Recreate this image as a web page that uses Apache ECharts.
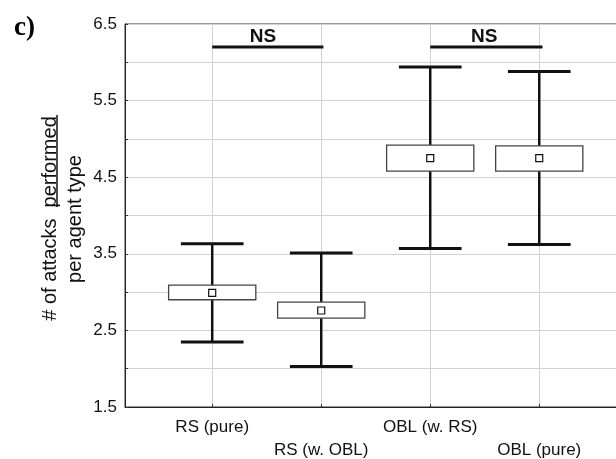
<!DOCTYPE html>
<html>
<head>
<meta charset="utf-8">
<script src="https://cdn.jsdelivr.net/npm/echarts@6/dist/echarts.min.js"></script>
<style>html,body{margin:0;padding:0;background:#fff;overflow:hidden}#c{width:616px;height:459px}</style>
</head>
<body>
<div id="c"></div>
<script>
// ---- data ----
const categories = ['RS (pure)', 'RS (w. OBL)', 'OBL (w. RS)', 'OBL (pure)'];
const catPositions = [1, 2, 3, 4];
const whiskerLow  = [2.35, 2.03, 3.57, 3.62];
const boxLow      = [2.90, 2.66, 4.58, 4.58];
const means       = [2.99, 2.76, 4.75, 4.75];
const boxHigh     = [3.09, 2.87, 4.92, 4.91];
const whiskerHigh = [3.63, 3.51, 5.94, 5.88];
const yTicks = [1.5, 2.5, 3.5, 4.5, 5.5, 6.5];
// significance brackets: from category, to category, level, label, label position
const sigFrom  = [1, 3];
const sigTo    = [2.02, 4.03];
const sigLevel = [6.2, 6.2];
const sigText  = ['NS', 'NS'];
const sigTextAt = [1.465, 3.495];

const FONT = 'Liberation Sans, Arial, Helvetica, sans-serif';

const boxData = catPositions.map((x, i) => [x, whiskerLow[i], boxLow[i], means[i], boxHigh[i], whiskerHigh[i]]);
const sigData = sigFrom.map((x, i) => [x, sigTo[i], sigLevel[i], sigTextAt[i], sigText[i]]);

const chart = echarts.init(document.getElementById('c'), null, {renderer: 'canvas'});
chart.setOption({
  animation: false,
  backgroundColor: '#fff',
  grid: {left: 125, top: 24, bottom: 52, right: -5, outerBoundsMode: 'none', containLabel: false,
         show: true, borderColor: '#333', borderWidth: 1, backgroundColor: 'transparent'},
  xAxis: {
    type: 'value', min: 0.2, max: 4.75,
    axisLine: {show: true, onZero: false, lineStyle: {color: '#222', width: 1}},
    axisTick: {show: true, inside: true, length: 3, customValues: catPositions, lineStyle: {color: '#333'}},
    axisLabel: {
      customValues: catPositions, margin: 9, fontSize: 17, fontFamily: FONT, color: '#111', lineHeight: 23,
      formatter: (v) => { const i = catPositions.indexOf(v); return i % 2 ? '\n' + categories[i] : categories[i]; }
    },
    splitLine: {show: true, lineStyle: {color: '#d2d2d2', width: 1}}
  },
  yAxis: {
    type: 'value', min: 1.5, max: 6.5, interval: 0.5,
    axisLine: {show: true, onZero: false, lineStyle: {color: '#222', width: 1}},
    axisTick: {show: true, inside: true, length: 3, lineStyle: {color: '#333'}},
    axisLabel: {
      margin: 8, fontSize: 17, fontFamily: FONT, color: '#111',
      formatter: (v) => { const r = Math.round(v * 10) / 10; return yTicks.includes(r) ? r.toFixed(1) : ''; }
    },
    splitLine: {show: true, lineStyle: {color: '#d2d2d2', width: 1}}
  },
  series: [
    {
      type: 'custom', name: 'box',
      data: boxData,
      encode: {x: 0, y: [1, 2, 3, 4, 5]},
      renderItem: (params, api) => {
        const x = api.value(0);
        const lo = api.coord([x, api.value(1)]);
        const q1 = api.coord([x, api.value(2)]);
        const m  = api.coord([x, api.value(3)]);
        const q3 = api.coord([x, api.value(4)]);
        const hi = api.coord([x, api.value(5)]);
        const cx = lo[0];
        const boxW = api.size([0.8, 0])[0];
        const capW = api.size([0.575, 0])[0];
        const ms = 7;
        return {
          type: 'group',
          children: [
            {type: 'line', shape: {x1: cx, y1: hi[1], x2: cx, y2: lo[1]}, style: {stroke: '#111', lineWidth: 2.5}},
            {type: 'line', shape: {x1: cx - capW / 2, y1: hi[1], x2: cx + capW / 2, y2: hi[1]}, style: {stroke: '#111', lineWidth: 3}},
            {type: 'line', shape: {x1: cx - capW / 2, y1: lo[1], x2: cx + capW / 2, y2: lo[1]}, style: {stroke: '#111', lineWidth: 3}},
            {type: 'rect', shape: {x: cx - boxW / 2, y: q3[1], width: boxW, height: q1[1] - q3[1]}, style: {fill: '#fff', stroke: '#444', lineWidth: 1.3}},
            {type: 'rect', shape: {x: cx - ms / 2, y: m[1] - ms / 2, width: ms, height: ms}, style: {fill: '#fff', stroke: '#111', lineWidth: 1.2}}
          ]
        };
      },
      z: 5
    },
    {
      type: 'custom', name: 'sig',
      data: sigData,
      encode: {x: [0, 1], y: 2},
      renderItem: (params, api) => {
        const a = api.coord([api.value(0), api.value(2)]);
        const b = api.coord([api.value(1), api.value(2)]);
        const t = api.coord([api.value(3), api.value(2)]);
        return {
          type: 'group',
          children: [
            {type: 'line', shape: {x1: a[0], y1: a[1], x2: b[0], y2: b[1]}, style: {stroke: '#111', lineWidth: 3}},
            {type: 'text', x: t[0], y: t[1] - 1,
             style: {text: sigData[params.dataIndex][4], fontSize: 19, fontWeight: 'bold', fontFamily: FONT, fill: '#111', align: 'center', verticalAlign: 'bottom'}}
          ]
        };
      },
      z: 5
    }
  ],
  graphic: [
    {type: 'text', left: 14, top: 15, style: {text: 'c)', fontSize: 27, fontWeight: 'bold', fontFamily: 'Liberation Serif, Times New Roman, serif', fill: '#000'}},
    {type: 'text', x: 50, y: 218.5, rotation: Math.PI / 2,
     style: {text: '# of attacks  performed', fontSize: 20, fontFamily: FONT, fill: '#111', align: 'center', verticalAlign: 'middle'}},
    {type: 'text', x: 75, y: 219, rotation: Math.PI / 2,
     style: {text: 'per agent type', fontSize: 20, fontFamily: FONT, fill: '#111', align: 'center', verticalAlign: 'middle'}},
    {type: 'line', shape: {x1: 57, y1: 115, x2: 57, y2: 207}, style: {stroke: '#111', lineWidth: 1.5}}
  ]
});
</script>
</body>
</html>
